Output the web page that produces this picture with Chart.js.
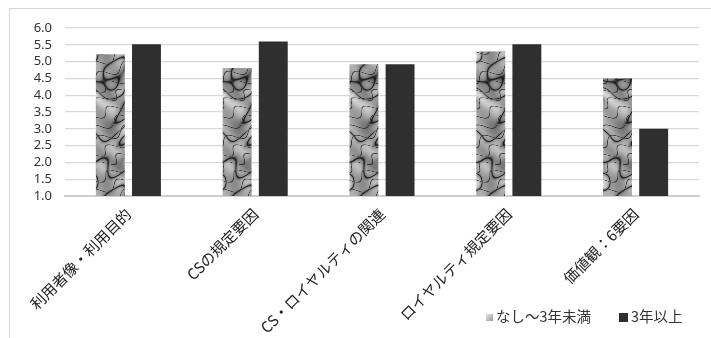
<!DOCTYPE html>
<html>
<head>
<meta charset="utf-8">
<script src="https://cdn.jsdelivr.net/npm/chart.js@4/dist/chart.umd.min.js"></script>
<style>
  html, body { margin: 0; padding: 0; background: #fff; overflow: hidden; }
  #wrap { position: relative; width: 711px; height: 338px; }
  #frame {
    position: absolute; left: 9px; top: 8px; width: 760px; height: 400px;
    border-left: 1.5px solid #d9d9d9; border-top: 1.5px solid #d9d9d9;
    box-sizing: border-box;
  }
  canvas { position: absolute; left: 0; top: 0; }
  #legend {
    position: absolute; top: 302px; left: 486px;
    font: 14.5px "Noto Sans CJK JP", sans-serif; color: #333;
    white-space: nowrap;
  }
  #legend span.item { display: inline-block; vertical-align: middle; }
  #legend .sw { display: inline-block; vertical-align: middle; margin-right: 3px; }
  #legend .sw1 { width: 7px; height: 7px; background: linear-gradient(135deg, #e4e4e4, #9a9a9a); }
  #legend .sw2 { width: 9px; height: 9px; background: #2f2f2f; }
</style>
</head>
<body>
<div id="wrap">
  <div id="frame"></div>
  <canvas id="c" width="711" height="338"></canvas>
  <div id="legend"></div>
</div>
<script>
// Survey categories and the mean score of each group
const categories = ['利用者像・利用目的', 'CSの規定要因', 'CS・ロイヤルティの関連', 'ロイヤルティ規定要因', '価値観：6要因'];
const seriesNames = ['なし～3年未満', '3年以上'];
const underThree = [5.22, 4.81, 4.92, 5.30, 4.50];
const threePlus = [5.52, 5.60, 4.92, 5.52, 3.00];
const yTickValues = [1.0, 1.5, 2.0, 2.5, 3.0, 3.5, 4.0, 4.5, 5.0, 5.5, 6.0];

// Stone-like grey texture (tileable) used to fill the first series
function makeStoneTexture() {
  const W = 64, H = 128;
  const t = document.createElement('canvas');
  t.width = W; t.height = H;
  const g = t.getContext('2d');
  const img = g.createImageData(W, H);
  const a = 2 * Math.PI / W, b = 2 * Math.PI / H;
  for (let y = 0; y < H; y++) {
    for (let x = 0; x < W; x++) {
      // smooth mottling
      const n = Math.sin(a * x + 1.2 * Math.sin(b * y * 2 + 0.7))
        + 0.8 * Math.sin(b * y * 3 + 1.5 * Math.sin(a * x + 0.5))
        + 0.4 * Math.sin(a * x * 2 + b * y * 3 + 1.1);
      const m = Math.sin(a * x * 2 - b * y * 4 + 2.0 + 0.8 * Math.sin(b * y * 2));
      let v = 170 + 32 * (n / 2.2) + 22 * m;
      // dark curved crack lines
      const s = Math.sin(1.3 * n + b * y * 2);
      const crack = Math.exp(-(s * s) / 0.035);
      const s2 = Math.sin(a * x + b * y * 5 + 1.2 * m);
      const crack2 = Math.exp(-(s2 * s2) / 0.02);
      // soft shadow beside cracks
      const shade = Math.exp(-(s * s) / 0.2) * 0.3;
      v = v * (1 - Math.max(0.8 * crack, 0.65 * crack2, shade));
      v = Math.max(30, Math.min(228, v));
      const i = (y * W + x) * 4;
      img.data[i] = img.data[i + 1] = img.data[i + 2] = v;
      img.data[i + 3] = 255;
    }
  }
  g.putImageData(img, 0, 0);
  return g.createPattern(t, 'repeat');
}

const ctx = document.getElementById('c').getContext('2d');
const stone = makeStoneTexture();

new Chart(ctx, {
  type: 'bar',
  data: {
    labels: categories,
    datasets: [
      { label: seriesNames[0], data: underThree, backgroundColor: stone, barPercentage: 0.8, categoryPercentage: 0.57 },
      { label: seriesNames[1], data: threePlus, backgroundColor: '#2f2f2f', barPercentage: 0.8, categoryPercentage: 0.57 }
    ]
  },
  options: {
    responsive: false,
    animation: false,
    devicePixelRatio: 1,
    layout: { padding: { top: 28, right: 12, left: 0, bottom: 0 } },
    plugins: { legend: { display: false }, tooltip: { enabled: false } },
    scales: {
      x: {
        grid: { display: false, drawTicks: false },
        border: { display: true, color: '#cfcfcf', width: 2 },
        ticks: {
          autoSkip: false, maxRotation: 45, minRotation: 45, padding: 9,
          color: '#222', font: { family: '"Noto Sans CJK JP", sans-serif', size: 15 }
        },
        afterFit: s => { s.height = 142; }
      },
      y: {
        min: 1, max: 6,
        afterBuildTicks: s => { s.ticks = yTickValues.map(v => ({ value: v })); },
        grid: { color: '#d9d9d9', lineWidth: 1.2, drawTicks: false },
        border: { display: false },
        ticks: {
          autoSkip: false, padding: 13, color: '#333',
          font: { family: '"Noto Sans", sans-serif', size: 13 },
          callback: v => Number(v).toFixed(1)
        },
        afterFit: s => { s.width = 65; }
      }
    }
  }
});

// Legend
const legend = document.getElementById('legend');
legend.innerHTML =
  '<span class="item"><span class="sw sw1"></span>' + seriesNames[0] + '</span>' +
  '<span class="item" style="margin-left:28px"><span class="sw sw2"></span>' + seriesNames[1] + '</span>';
</script>
</body>
</html>
